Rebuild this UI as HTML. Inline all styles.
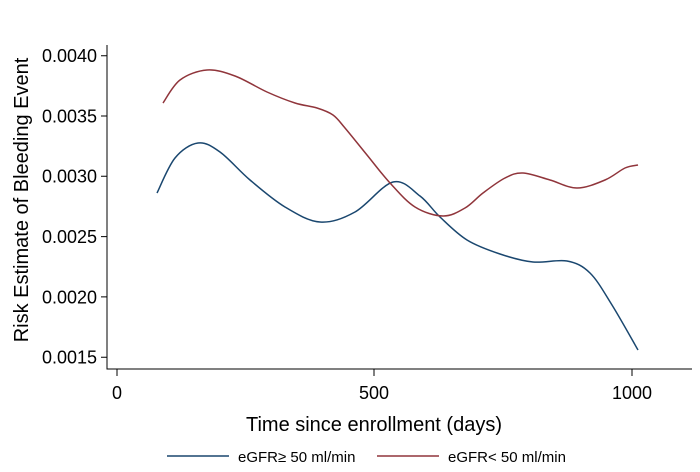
<!DOCTYPE html>
<html><head><style>body{margin:0;background:#fff}svg text{font-family:"Liberation Sans",sans-serif;fill:#000}</style></head>
<body>
<svg width="700" height="467" viewBox="0 0 700 467" xmlns="http://www.w3.org/2000/svg">
<g stroke="#000" stroke-width="1" fill="none">
<path d="M107 45V369H692"/>
<path d="M101 55.7H107M101 116H107M101 176.3H107M101 236.6H107M101 296.9H107M101 357.2H107"/>
<path d="M117 369V376M374 369V376M632 369V376"/>
</g>
<g font-size="18" text-anchor="end">
<text x="97" y="62">0.0040</text><text x="97" y="122.5">0.0035</text><text x="97" y="182.5">0.0030</text>
<text x="97" y="243">0.0025</text><text x="97" y="303.5">0.0020</text><text x="97" y="363.5">0.0015</text>
</g>
<g font-size="18" text-anchor="middle">
<text x="117" y="399">0</text><text x="374" y="399">500</text><text x="632" y="399">1000</text>
<text x="374" y="431" font-size="20">Time since enrollment (days)</text>
<text transform="translate(28 200) rotate(-90)" font-size="20">Risk Estimate of Bleeding Event</text>
</g>
<path id="b" stroke="#1a476f" stroke-width="1.5" fill="none"/>
<path id="r" stroke="#90353b" stroke-width="1.5" fill="none"/>
<line x1="167" y1="456" x2="229" y2="456" stroke="#1a476f" stroke-width="1.5"/>
<text x="238" y="462" font-size="15">eGFR≥ 50 ml/min</text>
<line x1="377" y1="456" x2="439" y2="456" stroke="#90353b" stroke-width="1.5"/>
<text x="448" y="462" font-size="15">eGFR&lt; 50 ml/min</text>
</svg>
<script>
function cr(p){var d="M"+p[0][0]+" "+p[0][1];for(var i=0;i<p.length-1;i++){var a=p[i-1]||p[i],b=p[i],c=p[i+1],e=p[i+2]||c;d+="C"+(b[0]+(c[0]-a[0])/6)+" "+(b[1]+(c[1]-a[1])/6)+" "+(c[0]-(e[0]-b[0])/6)+" "+(c[1]-(e[1]-b[1])/6)+" "+c[0]+" "+c[1];}return d;}
document.getElementById("b").setAttribute("d",cr([[157,193],[175,158],[198,143],[220,152],[250,180],[285,207],[320,222],[355,212],[393,182],[420,196],[440,217],[467,240],[500,254],[533,262],[567,261],[590,273],[612,305],[638,350]]));
document.getElementById("r").setAttribute("d",cr([[163,103],[180,80],[207,70],[235,76],[267,92],[295,103],[317,108],[333,115],[345,128],[367,155],[390,183],[415,207],[443,216],[465,208],[483,193],[505,178],[523,173],[550,180],[577,188],[605,180],[625,168],[638,165]]));
</script>
</body></html>
